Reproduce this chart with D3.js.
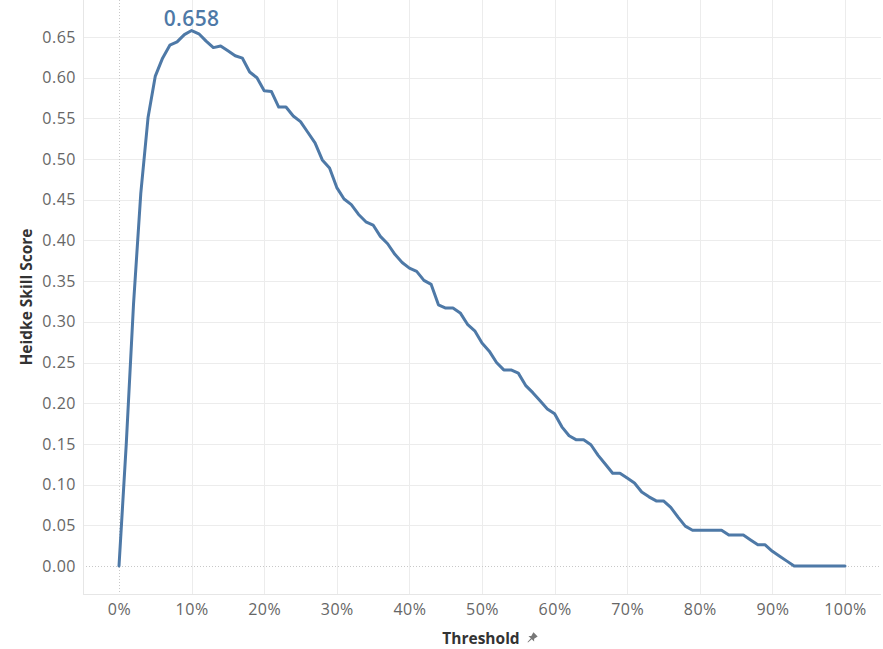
<!DOCTYPE html>
<html>
<head>
<meta charset="utf-8">
<script src="https://cdn.jsdelivr.net/npm/d3@7"></script>
<style>
  html, body { margin: 0; padding: 0; background: #fff; }
  svg { display: block; }
</style>
</head>
<body>
<svg id="chart" width="883" height="649"></svg>
<script>
// Threshold (%) and Heidke Skill Score
const thresholds = d3.range(0, 101);
const hssValues = [
  0.000, 0.150, 0.322, 0.458, 0.551, 0.602, 0.624, 0.640, 0.644, 0.653,
  0.658, 0.654, 0.645, 0.637, 0.639, 0.633, 0.627, 0.624, 0.607, 0.600,
  0.584, 0.583, 0.564, 0.564, 0.553, 0.546, 0.533, 0.520, 0.499, 0.489,
  0.465, 0.451, 0.444, 0.432, 0.423, 0.419, 0.405, 0.396, 0.383, 0.373,
  0.366, 0.362, 0.351, 0.346, 0.321, 0.317, 0.317, 0.311, 0.297, 0.289,
  0.274, 0.264, 0.250, 0.241, 0.241, 0.237, 0.222, 0.213, 0.203, 0.193,
  0.187, 0.171, 0.160, 0.155, 0.155, 0.149, 0.136, 0.125, 0.114, 0.114,
  0.108, 0.102, 0.091, 0.085, 0.080, 0.080, 0.072, 0.060, 0.049, 0.044,
  0.044, 0.044, 0.044, 0.044, 0.038, 0.038, 0.038, 0.032, 0.026, 0.026,
  0.018, 0.012, 0.006, 0.000, 0.000, 0.000, 0.000, 0.000, 0.000, 0.000,
  0.000
];
const xTicks = [0, 10, 20, 30, 40, 50, 60, 70, 80, 90, 100];
const yTicks = [0, 0.05, 0.10, 0.15, 0.20, 0.25, 0.30, 0.35, 0.40, 0.45, 0.50, 0.55, 0.60, 0.65];
const yTitle = "Heidke Skill Score";
const xTitle = "Threshold";
const peakLabel = "0.658";

(function () {
const data = thresholds.map((t, i) => ({ t, v: hssValues[i] }));

const svg = d3.select("#chart");
const pL = 83, pR = 881, pT = 0, pB = 594;
const x = d3.scaleLinear().domain([-4.96, 104.96]).range([pL, pR]);
const y = d3.scaleLinear().domain([-0.0344, 0.6955]).range([pB, pT]);

const fontFam = "'Open Sans', 'Noto Sans', sans-serif";
const gridColor = "#ececec";

// Horizontal gridlines
svg.append("g").selectAll("line").data(yTicks.filter(d => d !== 0)).join("line")
  .attr("x1", pL).attr("x2", pR)
  .attr("y1", d => Math.round(y(d)) + 0.5).attr("y2", d => Math.round(y(d)) + 0.5)
  .attr("stroke", gridColor).attr("stroke-width", 1);

// Vertical gridlines
svg.append("g").selectAll("line").data(xTicks.filter(d => d !== 0)).join("line")
  .attr("x1", d => Math.round(x(d)) + 0.5).attr("x2", d => Math.round(x(d)) + 0.5)
  .attr("y1", pT).attr("y2", pB)
  .attr("stroke", gridColor).attr("stroke-width", 1);

// Zero lines (dotted)
svg.append("line")
  .attr("x1", pL).attr("x2", pR)
  .attr("y1", Math.round(y(0)) + 0.5).attr("y2", Math.round(y(0)) + 0.5)
  .attr("stroke", "#c8c8c8").attr("stroke-width", 1).attr("stroke-dasharray", "1,2");
svg.append("line")
  .attr("x1", Math.round(x(0)) + 0.5).attr("x2", Math.round(x(0)) + 0.5)
  .attr("y1", pT).attr("y2", pB)
  .attr("stroke", "#c8c8c8").attr("stroke-width", 1).attr("stroke-dasharray", "1,2");

// Plot borders
svg.append("line").attr("x1", pL + 0.5).attr("x2", pL + 0.5).attr("y1", pT).attr("y2", pB)
  .attr("stroke", "#e6e6e6");
svg.append("line").attr("x1", pL).attr("x2", pR).attr("y1", pB + 0.5).attr("y2", pB + 0.5)
  .attr("stroke", "#e6e6e6");

// Axes
const yAxis = d3.axisLeft(y).tickValues(yTicks).tickFormat(d3.format(".2f")).tickSize(0).tickPadding(7);
const gy = svg.append("g").attr("transform", `translate(${pL},0)`).call(yAxis);
gy.select(".domain").remove();
gy.selectAll("text").attr("font-family", fontFam).attr("font-size", 16)
  .attr("letter-spacing", 0.5).attr("fill", "#666");

const xAxis = d3.axisBottom(x).tickValues(xTicks).tickFormat(d => d + "%").tickSize(0).tickPadding(10);
const gx = svg.append("g").attr("transform", `translate(0,${pB})`).call(xAxis);
gx.select(".domain").remove();
gx.selectAll("text").attr("font-family", fontFam).attr("font-size", 16)
  .attr("letter-spacing", 0.5).attr("fill", "#666");

// Line
const line = d3.line().x(d => x(d.t)).y(d => y(d.v));
svg.append("path").datum(data)
  .attr("fill", "none").attr("stroke", "#4e79a7").attr("stroke-width", 3)
  .attr("stroke-linejoin", "round").attr("stroke-linecap", "round")
  .attr("d", line);

// Peak label
const peak = data.reduce((a, b) => (b.v > a.v ? b : a));
svg.append("text")
  .attr("x", x(peak.t)).attr("y", y(peak.v) - 5)
  .attr("text-anchor", "middle")
  .attr("font-family", fontFam).attr("font-size", 21).attr("font-weight", 600)
  .attr("letter-spacing", 0.4)
  .attr("fill", "#4e79a7").text(peakLabel);

// Axis titles
svg.append("text")
  .attr("transform", `translate(32,${(pT + pB) / 2}) rotate(-90)`)
  .attr("text-anchor", "middle")
  .attr("font-family", fontFam).attr("font-size", 15.5).attr("font-weight", 700)
  .attr("fill", "#333").text(yTitle);

svg.append("text")
  .attr("x", 481).attr("y", 644)
  .attr("text-anchor", "middle")
  .attr("font-family", fontFam).attr("font-size", 15.5).attr("font-weight", 700)
  .attr("fill", "#333").text(xTitle);

// Pin icon next to x title
svg.append("g").attr("transform", "translate(532,638) rotate(45)")
  .append("path")
  .attr("d", "M-3,-5 L3,-5 L2,-1 L4,1 L-4,1 L-2,-1 Z M-0.6,1 L0.6,1 L0.3,6 L-0.3,6 Z")
  .attr("fill", "#777");
})();
</script>
</body>
</html>
